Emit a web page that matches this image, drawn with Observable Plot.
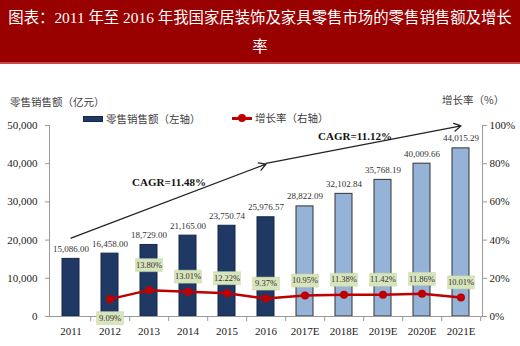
<!DOCTYPE html>
<html><head><meta charset="utf-8">
<script src="https://cdn.jsdelivr.net/npm/d3@7"></script>
<script src="https://cdn.jsdelivr.net/npm/@observablehq/plot@0.6"></script>
<style>
body{margin:0;background:#fff;}
#wrap{position:relative;width:520px;height:346px;overflow:hidden;background:#fff;}
#title{position:absolute;left:0;top:0;width:520px;height:59px;background:#990000;border-bottom:2px solid #c64a4a;color:#fff;font-family:"Liberation Serif","Noto Sans CJK SC",serif;font-size:15.4px;line-height:29px;text-align:center;white-space:nowrap;padding-top:3px;box-sizing:content-box;}
#chart{position:absolute;left:0;top:64px;}
.lab{position:absolute;font-family:"Noto Sans CJK SC",sans-serif;font-size:10.5px;color:#404040;white-space:nowrap;line-height:12px;}
.sw{position:absolute;}
</style></head><body>
<div id="wrap">
<div id="title">图表：2011 年至 2016 年我国家居装饰及家具零售市场的零售销售额及增长<br>率</div>
<div class="lab" style="left:10px;top:96px;">零售销售额（亿元）</div>
<div class="lab" style="left:442px;top:94px;">增长率（%）</div>
<div class="sw" style="left:83px;top:116px;width:20px;height:6px;background:#1f3864;border:1px solid #142848;box-sizing:border-box;"></div>
<div class="lab" style="left:106px;top:113px;">零售销售额（左轴）</div>
<div class="sw" style="left:232px;top:117px;width:20px;height:3px;background:#c00000;"></div>
<div class="sw" style="left:238px;top:114px;width:8px;height:8px;border-radius:50%;background:#c00000;"></div>
<div class="lab" style="left:255px;top:112px;">增长率（右轴）</div>
<div id="chart"></div>
</div>
<script>
const years = ["2011","2012","2013","2014","2015","2016","2017E","2018E","2019E","2020E","2021E"];
const sales = [15086.00, 16458.00, 18729.00, 21165.00, 23750.74, 25976.57, 28822.09, 32102.84, 35768.19, 40009.66, 44015.29];
const estimated = [false,false,false,false,false,false,true,true,true,true,true];
const growthYears = ["2012","2013","2014","2015","2016","2017E","2018E","2019E","2020E","2021E"];
const growth = [9.09, 13.80, 13.01, 12.22, 9.37, 10.95, 11.38, 11.42, 11.86, 10.01];
const leftTicks = [0, 10000, 20000, 30000, 40000, 50000];
const rightTicks = [0, 20, 40, 60, 80, 100];
const cagrLabels = ["CAGR=11.48%", "CAGR=11.12%"];

const RATIO = 500; // 100% on right axis == 50,000 on left axis
const W = 520, H = 282, mL = 49, mR = 38, mT = 61, mB = 30;
const step = (W - mL - mR) / years.length;

const data = years.map((y, i) => ({year: y, sales: sales[i], est: estimated[i]}));
const gdata = growthYears.map((y, i) => ({year: y, g: growth[i], v: growth[i] * RATIO}));
const lblMain = gdata.filter(d => d.year !== "2012" && d.year !== "2013");
const lblHigh = gdata.filter(d => d.year === "2013");
const lblLow = gdata.filter(d => d.year === "2012");

const boxSymbol = {draw(ctx) { ctx.moveTo(-13.5, -6.5); ctx.lineTo(13.5, -6.5); ctx.lineTo(13.5, 6.5); ctx.lineTo(-13.5, 6.5); ctx.closePath(); }};
const fmtPct = d => d.g.toFixed(2) + "%";

const arrows = [
  {x1: "2011", y1: 20500, x2: "2016", y2: 39900},
  {x1: "2016", y1: 40100, x2: "2021E", y2: 49900}
];
const cagr = [
  {x: "2013", y: 35100, text: cagrLabels[0], dx: 20},
  {x: "2018E", y: 47100, text: cagrLabels[1], dx: 11}
];

function labelMarks(arr, dy) {
  return [
    Plot.dot(arr, {x: "year", y: "v", dy, symbol: boxSymbol, r: 5, fill: "#d8e4bc", stroke: "#c9d8a8", strokeWidth: 0.5}),
    Plot.text(arr, {x: "year", y: "v", dy, text: fmtPct, fontSize: 8.5, fill: "#333"})
  ];
}

const chart = Plot.plot({
  width: W, height: H,
  marginLeft: mL, marginRight: mR, marginTop: mT, marginBottom: mB,
  style: {fontFamily: "'Liberation Serif', serif", fontSize: "11px", color: "#222", background: "transparent"},
  x: {domain: years, paddingInner: 0.57, paddingOuter: 0.285},
  y: {domain: [0, 50000]},
  marks: [
    Plot.barY(data.filter(d => !d.est), {x: "year", y: "sales", fill: "#1f3864", stroke: "#142848", strokeWidth: 1}),
    Plot.barY(data.filter(d => d.est), {x: "year", y: "sales", fill: "#95b3d7", stroke: "#333", strokeWidth: 1}),
    Plot.text(data, {x: "year", y: "sales", text: d => d3.format(",.2f")(d.sales), dy: -10, fontSize: 9, fill: "#333"}),
    Plot.frame({anchor: "left", stroke: "#999"}),
    Plot.frame({anchor: "right", stroke: "#999"}),
    Plot.frame({anchor: "bottom", stroke: "#999"}),
    Plot.axisY({ticks: leftTicks, tickFormat: d3.format(","), tickSize: 4, tickPadding: 8, label: null, stroke: "#999"}),
    Plot.axisY({anchor: "right", ticks: rightTicks.map(d => d * RATIO), tickFormat: d => d / RATIO + "%", tickSize: 4, tickPadding: 3, label: null, stroke: "#999"}),
    Plot.axisX({tickSize: 0, tickPadding: 11, label: null}),
    Plot.ruleX(years, {x: d => d, dx: step / 2, y1: 0, y2: 0, insetBottom: -5, stroke: "#999"}),
    Plot.line(gdata, {x: "year", y: "v", stroke: "#c00000", strokeWidth: 2.5}),
    Plot.dot(gdata, {x: "year", y: "v", r: 4, fill: "#c00000"}),
    ...labelMarks(lblMain, -15),
    ...labelMarks(lblHigh, -25),
    ...labelMarks(lblLow, 19),
    Plot.arrow(arrows, {x1: "x1", y1: "y1", x2: "x2", y2: "y2", stroke: "#222", strokeWidth: 1.3, headLength: 9}),
    Plot.text([cagr[0]], {x: "x", y: "y", text: "text", dx: cagr[0].dx, fontSize: 11, fontWeight: "bold", fill: "#111"}),
    Plot.text([cagr[1]], {x: "x", y: "y", text: "text", dx: cagr[1].dx, fontSize: 11, fontWeight: "bold", fill: "#111"})
  ]
});
document.getElementById("chart").append(chart);
</script>
</body></html>
